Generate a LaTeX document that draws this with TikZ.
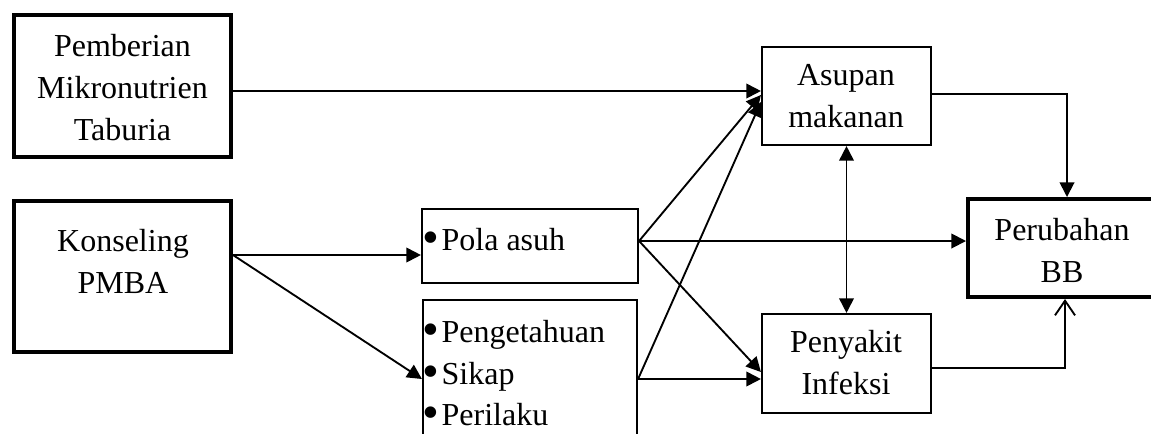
\documentclass[tikz,border=0pt]{standalone}
\usepackage{fontspec}
\setmainfont{Liberation Serif}
\usetikzlibrary{arrows.meta}
\newcommand\bul{\makebox[16pt][c]{\raisebox{-2.5pt}{\fontsize{36}{36}\selectfont •}}}
\begin{document}
\begin{tikzpicture}[x=0.75pt,y=-0.75pt,
  box/.style={draw, rectangle, inner sep=0pt, line width=1.6pt},
  tbox/.style={box, line width=3pt},
  txt/.style={align=center, inner sep=0pt, font=\fontsize{24}{31.5}\selectfont},
  ltxt/.style={anchor=base west, inner sep=0pt, font=\fontsize{24}{31.5}\selectfont},
  arr/.style={line width=1.4pt, -{Triangle[length=11pt,width=11pt]}},
  darr/.style={line width=1.4pt, {Triangle[length=11pt,width=11pt]}-{Triangle[length=11pt,width=11pt]}},
  oarr/.style={line width=1.4pt, -{Straight Barb[length=11pt,width=15pt,line width=1.4pt]}}
]
\useasboundingbox (0,0) rectangle (1151,433);
\clip (0,0) rectangle (1151,433);
% boxes
\node[tbox, minimum width=162.75pt, minimum height=106.5pt] (pb) at (122.5,86) {};
\node[tbox, minimum width=162.75pt, minimum height=113.25pt] (kp) at (122.5,276.5) {};
\node[box, minimum width=162pt, minimum height=55.5pt] (pa) at (530,246) {};
\node[box, minimum width=160.5pt, minimum height=112.5pt] (pk) at (530,375) {};
\node[box, minimum width=126.75pt, minimum height=73.5pt] (as) at (846.5,96) {};
\node[box, minimum width=126.75pt, minimum height=74.25pt] (pi) at (846.5,363.5) {};
\node[tbox, minimum width=141pt, minimum height=73.5pt] (bb) at (1062,248) {};
% texts
\node[txt] (pbt) at (122.5,88) {Pemberian\\Mikronutrien\\Taburia};
\node[txt] (kpt) at (123,261) {Konseling\\PMBA};
\node[txt] (ast) at (846,96) {Asupan\\makanan};
\node[txt] (pit) at (846,363) {Penyakit\\Infeksi};
\node[txt] (bbt) at (1062,250) {Perubahan\\BB};
\node[ltxt] (pat) at (420,250) {\bul Pola asuh};
\node[ltxt] (pk1) at (420,342) {\bul Pengetahuan};
\node[ltxt] (pk2) at (420,384) {\bul Sikap};
\node[ltxt] (pk3) at (420,425) {\bul Perilaku};
% connectors
\draw[arr] ([yshift=-3.75pt]pb.east) -- ([yshift=-3.75pt]pb.east -| as.west);
\draw[arr] ([yshift=16.125pt]kp.east) -- ([yshift=16.125pt]kp.east -| pa.west);
\draw[arr] ([yshift=16.125pt]kp.east) -- ([yshift=-3pt]pk.west);
\draw[arr] ([yshift=3.75pt]pa.east) -- ([yshift=0.75pt]as.west);
\draw[arr] ([yshift=3.75pt]pa.east) -- ([yshift=3.75pt]pa.east -| bb.west);
\draw[arr] ([yshift=3.75pt]pa.east) -- ([yshift=-6.375pt]pi.west);
\draw[arr] ([yshift=-3pt]pk.east) -- ([yshift=-4.5pt]as.west);
\draw[arr] ([yshift=-3pt]pk.east) -- ([yshift=-3pt]pk.east -| pi.west);
\draw[arr] ([yshift=1.5pt]as.east) -| ([xshift=3.75pt]bb.north);
\draw[oarr] ([yshift=-3.375pt]pi.east) -| ([xshift=2.25pt]bb.south);
\draw[darr] (as.south) -- (pi.north);
\end{tikzpicture}
\end{document}
